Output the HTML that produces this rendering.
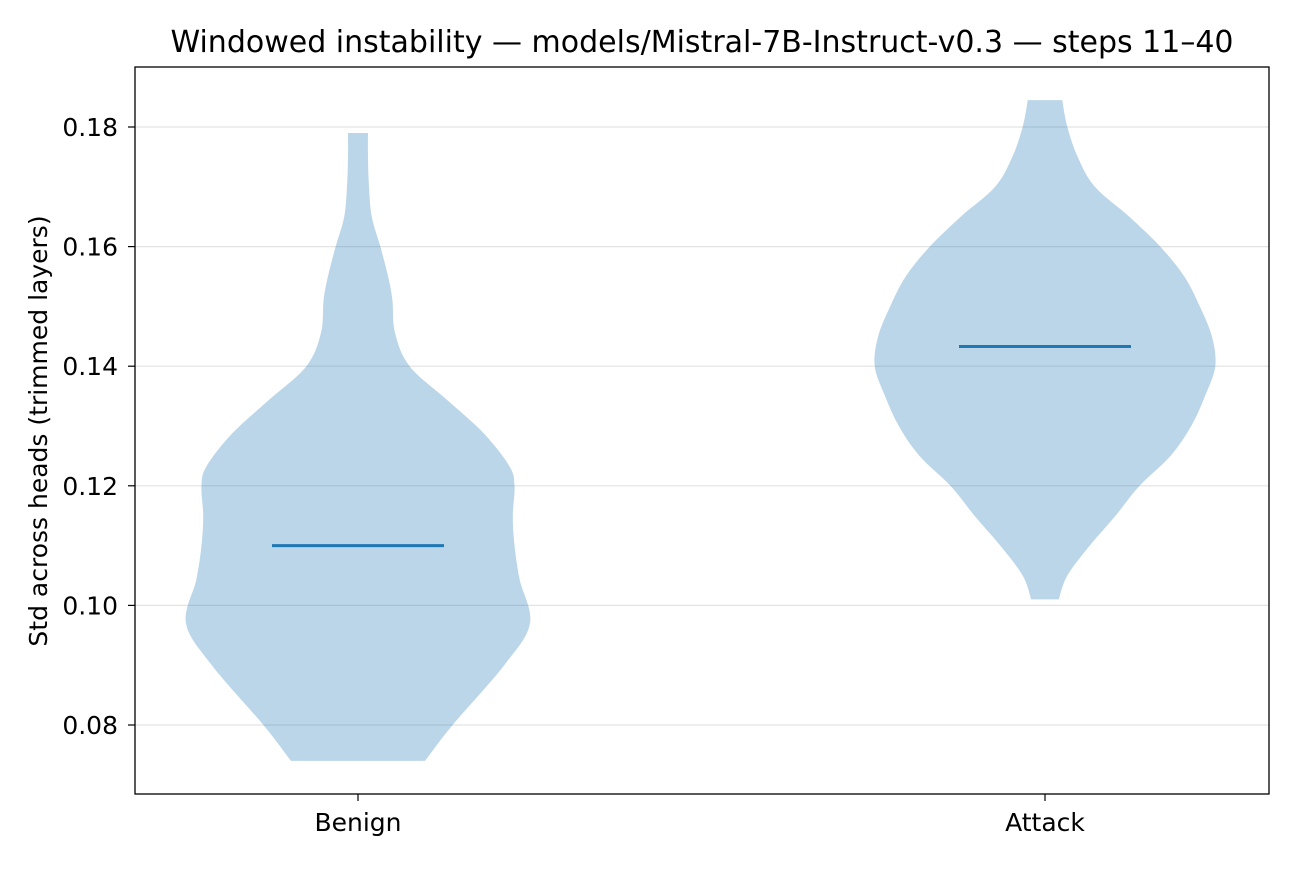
<!DOCTYPE html>
<html><head><meta charset="utf-8"><style>
body{margin:0;background:#fff;}
svg{font-family:"DejaVu Sans","Liberation Sans",sans-serif;}
</style></head><body>
<svg id="chart" width="1296" height="864" viewBox="0 0 1296 864">
<text x="702" y="52" font-size="30" text-anchor="middle">Windowed instability — models/Mistral-7B-Instruct-v0.3 — steps 11–40</text>
<text transform="translate(47,431) rotate(-90)" font-size="25" text-anchor="middle">Std across heads (trimmed layers)</text>
<g id="grid"></g>
<g id="violins"></g>
<rect x="135" y="67" width="1134" height="727" fill="none" stroke="#000" stroke-width="1.3"/>
<g id="axes"></g>
</svg>
<script>
const categories=["Benign","Attack"];
const yTicks=[0.08,0.10,0.12,0.14,0.16,0.18];
const medians=[0.110,0.1433];
const benignVals=[0.074,0.08,0.09,0.097,0.1043,0.11,0.115,0.12,0.1233,0.1288,0.1343,0.14,0.1456,0.1511,0.155,0.16,0.165,0.17,0.175,0.179];
const benignDens=[0.39,0.55,0.85,1.0,0.94,0.91,0.9,0.91,0.88,0.73,0.52,0.3,0.215,0.2,0.175,0.13,0.08,0.064,0.058,0.058];
const attackVals=[0.101,0.105,0.11,0.115,0.12,0.125,0.13,0.135,0.14,0.145,0.15,0.155,0.16,0.165,0.17,0.175,0.18,0.1845];
const attackDens=[0.08,0.13,0.26,0.41,0.55,0.73,0.85,0.93,0.99,0.97,0.9,0.81,0.67,0.49,0.29,0.19,0.13,0.1];
const NS="http://www.w3.org/2000/svg";
const y=v=>725+(v-0.08)/0.10*(127-725);
const xc=i=>[358,1045][i];
const maxHalf=172;
function mk(tag,attrs,parent){const e=document.createElementNS(NS,tag);for(const k in attrs)e.setAttribute(k,attrs[k]);parent.appendChild(e);return e;}
const grid=document.getElementById('grid'),axes=document.getElementById('axes'),vg=document.getElementById('violins');
yTicks.forEach(t=>{
 const g=mk('line',{x1:135,x2:1269,y1:y(t),y2:y(t),stroke:'#e3e3e3','stroke-width':1.2},grid);
 
 
 const tk=mk('line',{x1:128,x2:135,y1:y(t),y2:y(t),stroke:'#000','stroke-width':1.2},axes);
 
 
 const lb=mk('text',{x:118,y:y(t)+9,'font-size':25,'text-anchor':'end'},axes);
 lb.textContent=t.toFixed(2);
 
 
});
categories.forEach((c,i)=>{
 const tk=mk('line',{x1:xc(i),x2:xc(i),y1:794,y2:801,stroke:'#000','stroke-width':1.2},axes);
 
 
 const lb=mk('text',{x:xc(i),y:831,'font-size':25,'text-anchor':'middle'},axes);
 lb.textContent=c;
 
 
});
[[benignVals,benignDens],[attackVals,attackDens]].forEach((s,i)=>{
 const [vals,dens]=s;
 const right=vals.map((v,k)=>[xc(i)+dens[k]*maxHalf,y(v)]);
 const left=vals.map((v,k)=>[xc(i)-dens[k]*maxHalf,y(v)]).reverse();
 function smooth(p){let d='M'+p[0][0]+','+p[0][1];
  for(let k=0;k<p.length-1;k++){const p0=p[k-1]||p[k],p1=p[k],p2=p[k+1],p3=p[k+2]||p2;
   d+=` C${p1[0]+(p2[0]-p0[0])/6},${p1[1]+(p2[1]-p0[1])/6} ${p2[0]-(p3[0]-p1[0])/6},${p2[1]-(p3[1]-p1[1])/6} ${p2[0]},${p2[1]}`;}
  return d;}
 const d=smooth(right)+' L'+left[0][0]+','+left[0][1]+smooth(left).replace(/^M[^C]*/,' ')+' Z';
 const p=mk('path',{d:d,fill:'#1f77b4','fill-opacity':0.3},vg);
 
 
 const m=mk('line',{x1:xc(i)-86,x2:xc(i)+86,y1:y(medians[i]),y2:y(medians[i]),stroke:'#1f77b4','stroke-width':3},vg);
 
 
});
</script>
</body></html>
